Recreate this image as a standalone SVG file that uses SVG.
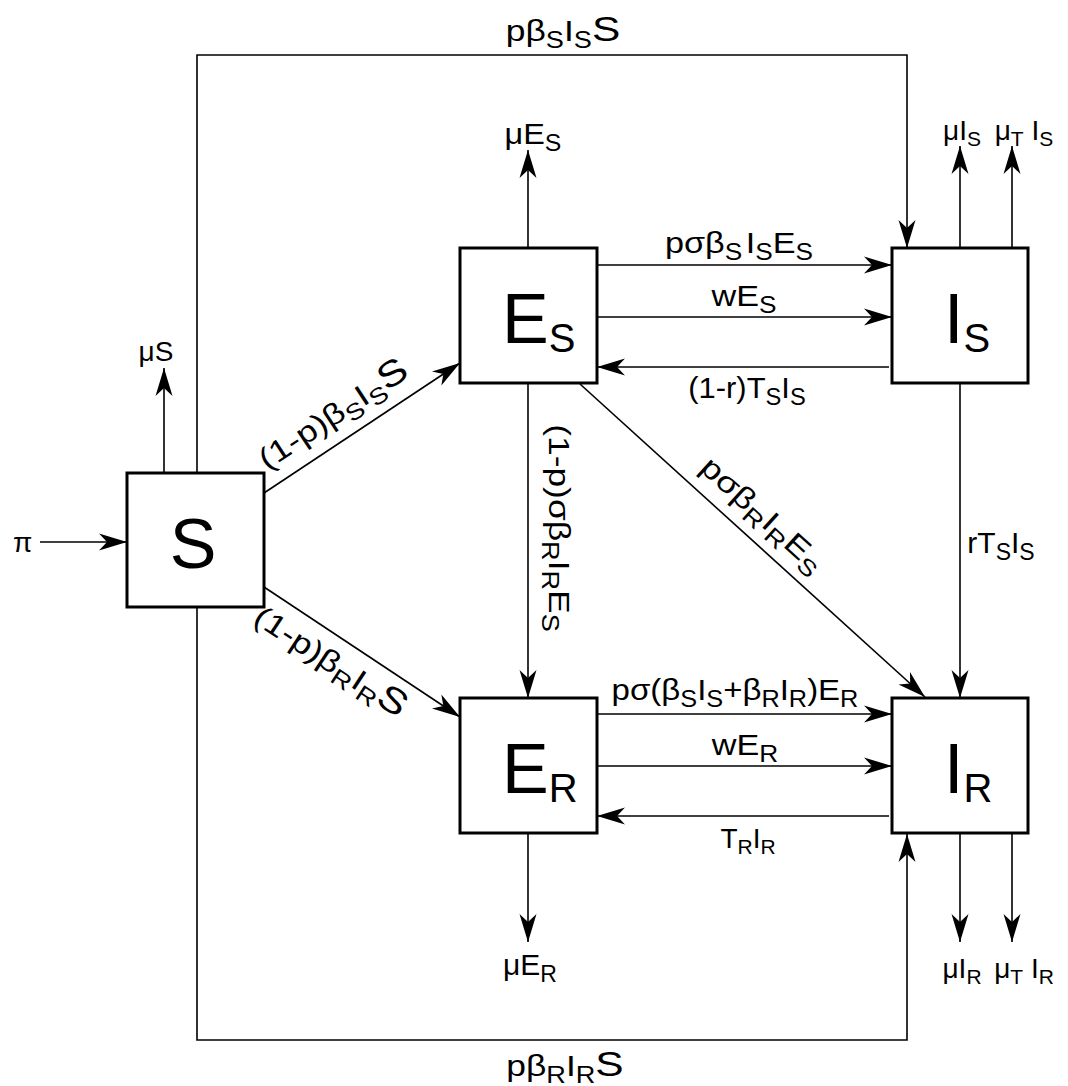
<svg xmlns="http://www.w3.org/2000/svg" width="1068" height="1086" viewBox="0 0 1068 1086">
<style>
.box{fill:#fff;stroke:#000;stroke-width:3}
.c{fill:none;stroke:#000;stroke-width:1.6}
.a{marker-end:url(#arr)}
text{font-family:"Liberation Sans",Arial,sans-serif;fill:#000}
.l{font-size:30px}
.m{font-size:28px}
.s{font-size:23px}
.s2{font-size:21px}
.bl{font-size:70px}
.bs{font-size:40px}
.big{font-size:36px}
</style>
<defs>
<marker id="arr" markerUnits="userSpaceOnUse" viewBox="-28 -9 29 18" refX="0" refY="0" markerWidth="29" markerHeight="18" orient="auto" overflow="visible">
<path d="M0,0 L-28,-8.5 L-20,0 L-28,8.5 Z" fill="#000"/>
</marker>
</defs>
<rect width="1068" height="1086" fill="#fff"/>
<g id="connectors">
<line class="c a" x1="40" y1="542" x2="127" y2="542"/>
<line class="c a" x1="164" y1="473" x2="164" y2="368"/>
<polyline class="c a" points="197,473 197,55 907,55 907,248"/>
<polyline class="c a" points="197,607 197,1040 907,1040 907,834"/>
<line class="c a" x1="264" y1="493" x2="460" y2="363"/>
<line class="c a" x1="264" y1="587" x2="460" y2="717"/>
<line class="c a" x1="528" y1="248" x2="528" y2="150"/>
<line class="c a" x1="597" y1="265" x2="892" y2="265"/>
<line class="c a" x1="592" y1="317" x2="892" y2="317"/>
<line class="c a" x1="889" y1="367" x2="597" y2="367"/>
<line class="c a" x1="528" y1="383" x2="528" y2="698"/>
<line class="c a" x1="580" y1="384" x2="925" y2="697"/>
<line class="c a" x1="960" y1="383" x2="960" y2="698"/>
<line class="c a" x1="597" y1="714" x2="892" y2="714"/>
<line class="c a" x1="592" y1="766" x2="892" y2="766"/>
<line class="c a" x1="889" y1="816" x2="597" y2="816"/>
<line class="c a" x1="528" y1="833" x2="528" y2="942"/>
<line class="c a" x1="960" y1="248" x2="960" y2="146"/>
<line class="c a" x1="1012" y1="248" x2="1012" y2="146"/>
<line class="c a" x1="960" y1="833" x2="960" y2="942"/>
<line class="c a" x1="1012" y1="833" x2="1012" y2="942"/>
</g>
<g id="labels">
<text class="l" transform="translate(563,41) scale(1.18,1)" text-anchor="middle">pβ<tspan class="s" dy="7">S</tspan><tspan dy="-7">I</tspan><tspan class="s" dy="7">S</tspan><tspan class="big" dy="-7">S</tspan></text>
<text class="l" transform="translate(565,1076) scale(1.18,1)" text-anchor="middle">pβ<tspan class="s" dy="7">R</tspan><tspan dy="-7">I</tspan><tspan class="s" dy="7">R</tspan><tspan class="big" dy="-7">S</tspan></text>
<text class="m" x="13" y="552">π</text>
<text class="m" x="156" y="361" text-anchor="middle">μS</text>
<text class="l" transform="translate(533,144) scale(1.08,1)" text-anchor="middle">μE<tspan class="s" dy="7">S</tspan></text>
<text class="m" x="962" y="140" text-anchor="middle">μI<tspan class="s2" dy="6">S</tspan></text>
<text class="m" x="1024" y="140" text-anchor="middle">μ<tspan class="s2" dy="6">T</tspan><tspan dy="-6"> I</tspan><tspan class="s2" dy="6">S</tspan></text>
<text class="l" transform="translate(739,253) scale(1.14,1)" text-anchor="middle">pσβ<tspan class="s" dy="7">S</tspan><tspan dy="-7" dx="3">I</tspan><tspan class="s" dy="7">S</tspan><tspan dy="-7">E</tspan><tspan class="s" dy="7">S</tspan></text>
<text class="l" transform="translate(744,306) scale(1.14,1)" text-anchor="middle">wE<tspan class="s" dy="7">S</tspan></text>
<text class="l" transform="translate(747,398) scale(1.03,1)" text-anchor="middle">(1-r)T<tspan class="s" dy="7">S</tspan><tspan dy="-7">I</tspan><tspan class="s" dy="7">S</tspan></text>
<text class="l" x="1001" y="553" text-anchor="middle">rT<tspan class="s" dy="7">S</tspan><tspan dy="-7">I</tspan><tspan class="s" dy="7">S</tspan></text>
<text class="l" transform="translate(735,700) scale(1.1,1)" text-anchor="middle">pσ(β<tspan class="s" dy="7">S</tspan><tspan dy="-7">I</tspan><tspan class="s" dy="7">S</tspan><tspan dy="-7">+β</tspan><tspan class="s" dy="7">R</tspan><tspan dy="-7">I</tspan><tspan class="s" dy="7">R</tspan><tspan dy="-7">)E</tspan><tspan class="s" dy="7">R</tspan></text>
<text class="l" transform="translate(745,755) scale(1.14,1)" text-anchor="middle">wE<tspan class="s" dy="7">R</tspan></text>
<text class="m" x="748" y="848" text-anchor="middle">T<tspan class="s2" dy="6">R</tspan><tspan dy="-6">I</tspan><tspan class="s2" dy="6">R</tspan></text>
<text class="l" x="530" y="975" text-anchor="middle">μE<tspan class="s" dy="7">R</tspan></text>
<text class="m" x="962" y="978" text-anchor="middle">μI<tspan class="s2" dy="6">R</tspan></text>
<text class="m" x="1024" y="978" text-anchor="middle">μ<tspan class="s2" dy="6">T</tspan><tspan dy="-6"> I</tspan><tspan class="s2" dy="6">R</tspan></text>
<text class="l" transform="translate(339,423) rotate(-33.4) scale(1.2,1)" text-anchor="middle">(1-p)β<tspan class="s" dy="7">S</tspan><tspan dy="-7">I</tspan><tspan class="s" dy="7">S</tspan><tspan class="big" dy="-7">S</tspan></text>
<text class="l" transform="translate(325,670) rotate(33.4) scale(1.2,1)" text-anchor="middle">(1-p)β<tspan class="s" dy="7">R</tspan><tspan dy="-7">I</tspan><tspan class="s" dy="7">R</tspan><tspan class="big" dy="-7">S</tspan></text>
<text class="l" transform="translate(549,528) rotate(90) scale(1.18,1)" text-anchor="middle">(1-p)σβ<tspan class="s" dy="7">R</tspan><tspan dy="-7">I</tspan><tspan class="s" dy="7">R</tspan><tspan dy="-7">E</tspan><tspan class="s" dy="7">S</tspan></text>
<text class="l" transform="translate(756,522) rotate(42.3) scale(1.2,1)" text-anchor="middle">pσβ<tspan class="s" dy="7">R</tspan><tspan dy="-7">I</tspan><tspan class="s" dy="7">R</tspan><tspan dy="-7">E</tspan><tspan class="s" dy="7">S</tspan></text>
</g>
<g id="node-S"><rect class="box" x="127" y="473" width="137" height="134"/><text class="bl" x="193" y="568" text-anchor="middle">S</text></g>
<g id="node-ES"><rect class="box" x="460" y="248" width="137" height="135"/><text class="bl" x="502" y="343">E<tspan class="bs" dy="9">S</tspan></text></g>
<g id="node-IS"><rect class="box" x="892" y="248" width="136" height="135"/><text class="bl" x="944" y="343">I<tspan class="bs" dy="9">S</tspan></text></g>
<g id="node-ER"><rect class="box" x="460" y="698" width="137" height="135"/><text class="bl" x="502" y="793">E<tspan class="bs" dy="9">R</tspan></text></g>
<g id="node-IR"><rect class="box" x="892" y="698" width="136" height="135"/><text class="bl" x="944" y="793">I<tspan class="bs" dy="9">R</tspan></text></g>
</svg>
